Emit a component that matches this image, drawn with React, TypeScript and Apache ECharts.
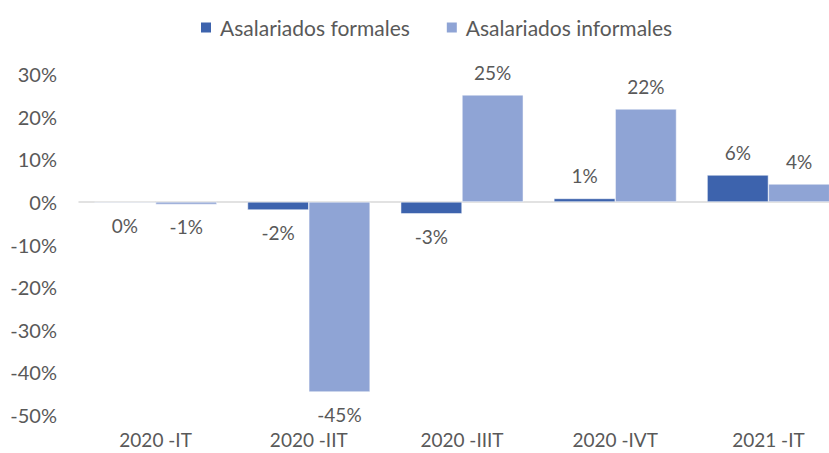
import React, { useEffect, useRef } from "react";
import * as echarts from "echarts";

const categories = ["2020 -IT", "2020 -IIT", "2020 -IIIT", "2020 -IVT", "2021 -IT"];
const formales = [-0.2, -1.9, -2.8, 0.8, 6.3];
const informales = [-0.6, -44.6, 25.1, 21.8, 4.2];
const yTicks = { min: -50, max: 30, interval: 10 };

const FONT = "Lato";
const TEXT = "#595959";

function toData(vals: number[]) {
  return vals.map((v) => ({
    value: v,
    label: { position: v < 0 ? "bottom" : "top" },
  }));
}

export default function App() {
  const ref = useRef<HTMLDivElement>(null);
  useEffect(() => {
    document.body.style.margin = "0";
    document.body.style.overflow = "hidden";
    const chart = echarts.init(ref.current!, null, { renderer: "svg" });
    const label = {
      show: true,
      distance: 13,
      color: TEXT,
      fontFamily: FONT,
      fontSize: 19,
      formatter: (p: any) => String(Math.round(p.value) || 0) + "%",
    };
    chart.setOption({
      animation: false,
      textStyle: { fontFamily: FONT },
      legend: {
        top: 12,
        left: 194,
        itemWidth: 12,
        itemHeight: 12,
        itemGap: 35,
        icon: "rect",
        textStyle: { color: TEXT, fontSize: 21, fontFamily: FONT, padding: [0, 0, 0, 3] },
        data: ["Asalariados formales", "Asalariados informales"],
      },
      grid: {
        left: 79,
        width: 766,
        top: 74,
        height: 341,
        containLabel: false,
        outerBoundsMode: "none",
      },
      xAxis: [
        {
          type: "category",
          data: categories,
          position: "bottom",
          axisLine: { show: false, onZero: false },
          axisTick: { show: false },
          axisLabel: { color: TEXT, fontSize: 19, fontFamily: FONT, margin: 15 },
        },
        {
          type: "category",
          data: categories,
          position: "bottom",
          axisLine: { show: true, onZero: true, lineStyle: { color: "#d9d9d9", width: 1.5 } },
          axisTick: { show: false },
          axisLabel: { show: false },
        },
      ],
      yAxis: {
        type: "value",
        min: yTicks.min,
        max: yTicks.max,
        interval: yTicks.interval,
        axisLine: { show: false },
        axisTick: { show: false },
        splitLine: { show: false },
        axisLabel: {
          color: TEXT,
          fontSize: 20,
          fontFamily: FONT,
          margin: 22,
          formatter: (v: number) => v + "%",
        },
      },
      series: [
        {
          name: "Asalariados formales",
          type: "bar",
          data: toData(formales),
          barGap: "0%",
          barCategoryGap: "20%",
          itemStyle: { color: "#3d63ad", borderColor: "#ffffff", borderWidth: 0.5 },
          label,
        },
        {
          name: "Asalariados informales",
          type: "bar",
          data: toData(informales),
          barGap: "0%",
          barCategoryGap: "20%",
          itemStyle: { color: "#8fa4d5", borderColor: "#ffffff", borderWidth: 0.5 },
          label,
        },
      ],
    });
    return () => chart.dispose();
  }, []);
  return <div ref={ref} style={{ width: 829, height: 453 }} />;
}
